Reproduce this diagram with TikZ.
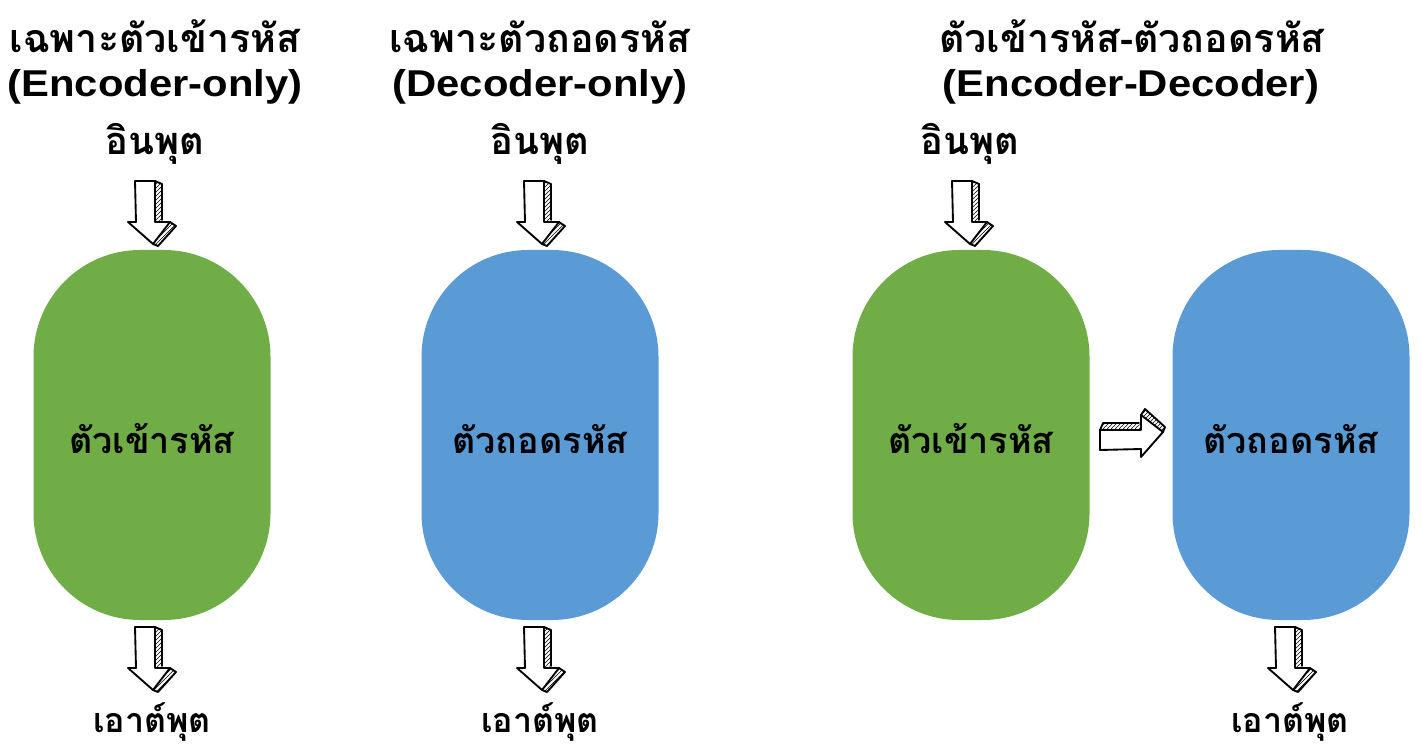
\documentclass[tikz,border=0pt]{standalone}
\usepackage{fontspec}
\setmainfont{Liberation Sans}
\newfontfamily\thaifont[Script=Thai]{Loma}
\usetikzlibrary{patterns}
\definecolor{encgreen}{RGB}{112,173,71}
\definecolor{decblue}{RGB}{91,155,213}
\tikzset{
  capsule/.style={minimum width=177.75pt, minimum height=277.5pt, rounded corners=80pt, inner sep=0pt},
  enc/.style={capsule, fill=encgreen},
  dec/.style={capsule, fill=decblue},
  titleth/.style={font=\thaifont\bfseries\fontsize{29.5}{30}\selectfont, anchor=base, inner sep=0pt, text depth=0pt},
  titleen/.style={font=\bfseries\fontsize{28}{30}\selectfont, anchor=base, inner sep=0pt, xscale=1.12, text height=20pt},
  inlabel/.style={font=\thaifont\bfseries\fontsize{28.5}{30}\selectfont, anchor=base, inner sep=0pt},
  outlabel/.style={font=\thaifont\bfseries\fontsize{25.5}{28}\selectfont, anchor=base, inner sep=0pt},
  boxlabel/.style={font=\thaifont\bfseries\fontsize{27}{28}\selectfont, anchor=base, inner sep=0pt},
  arrline/.style={draw=black, line width=1.4pt, line join=round, line cap=round},
  barrow/.pic={
    \fill[white] (-18,-63) -- (2,-63) -- (2,-22) -- (17,-22) -- (0,0) -- (-25,-22) -- (-17,-22) -- cycle;
    \path[pattern=north east lines] (2,-63) -- (9,-60) -- (9,-24) -- (2,-22) -- cycle;
    \path[pattern=north east lines] (17,-22) -- (23,-18) -- (5,2) -- (0,0) -- cycle;
    \draw[arrline] (-18,-63) -- (2,-63) -- (2,-22) -- (17,-22) -- (0,0) -- (-25,-22) -- (-17,-22) -- cycle;
    \draw[arrline] (2,-63) -- (9,-60) -- (9,-24);
    \draw[arrline] (17,-22) -- (23,-18) -- (5,2) -- (0,0);
  }
}
\begin{document}
\begin{tikzpicture}[x=0.75pt, y=-0.75pt]
\useasboundingbox[fill=white] (0,0) rectangle (1423,752);
% column 1
\node[titleth] (t1a) at (155,53) {เฉพาะตัวเข้ารหัส};
\node[titleen] (t1b) at (155,97) {(Encoder-only)};
\node[inlabel] (in1) at (155,155) {อินพุต};
\node[enc] (enc1) at (152,435) {};
\node[boxlabel] (l1) at (152,453) {ตัวเข้ารหัส};
\node[outlabel] (out1) at (152,732) {เอาต์พุต};
% column 2
\node[titleth] (t2a) at (540,53) {เฉพาะตัวถอดรหัส};
\node[titleen] (t2b) at (540,97) {(Decoder-only)};
\node[inlabel] (in2) at (540,155) {อินพุต};
\node[dec] (dec1) at (540,435) {};
\node[boxlabel] (l2) at (540,453) {ตัวถอดรหัส};
\node[outlabel] (out2) at (540,732) {เอาต์พุต};
% column 3
\node[titleth] (t3a) at (1132,53) {ตัวเข้ารหัส-ตัวถอดรหัส};
\node[titleen] (t3b) at (1131,97) {(Encoder-Decoder)};
\node[inlabel] (in3) at (970,155) {อินพุต};
\node[enc] (enc2) at (971,435) {};
\node[boxlabel] (l3) at (971,453) {ตัวเข้ารหัส};
\node[dec] (dec2) at (1291,435) {};
\node[boxlabel] (l4) at (1291,453) {ตัวถอดรหัส};
\node[outlabel] (out3) at (1290,732) {เอาต์พุต};
% arrows
\pic at (153,244) {barrow};
\pic at (153,690) {barrow};
\pic at (542,244) {barrow};
\pic at (542,690) {barrow};
\pic at (970,244) {barrow};
\pic at (1293,690) {barrow};
\pic[rotate=90] at (1163,432) {barrow};
\end{tikzpicture}
\end{document}
